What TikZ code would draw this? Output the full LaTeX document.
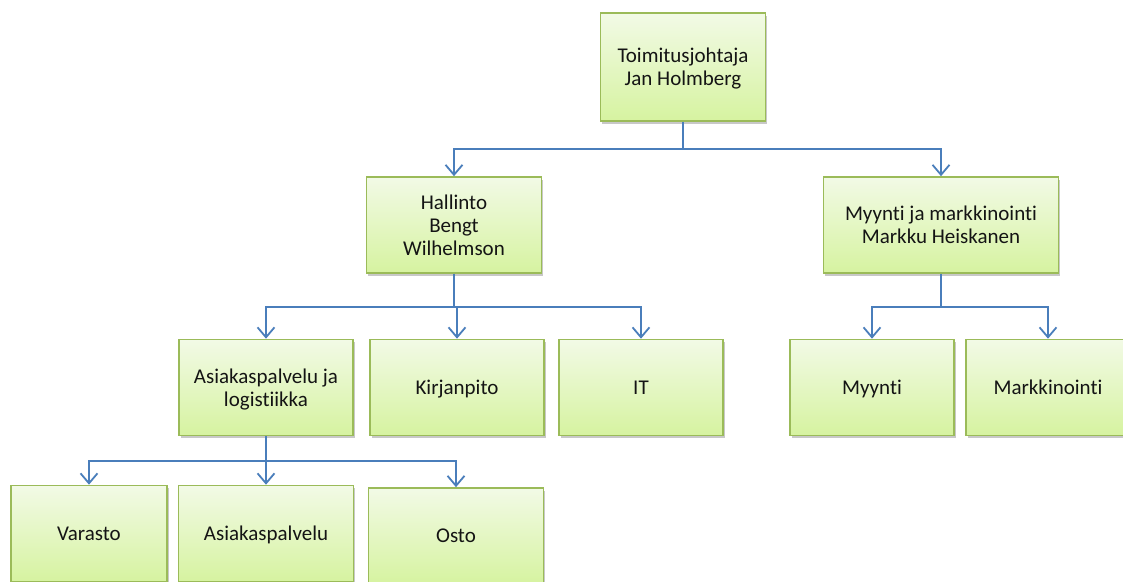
\documentclass[tikz,border=0pt]{standalone}
\usepackage{fontspec}
\setmainfont{Carlito}[Ligatures={NoCommon}]
\usetikzlibrary{arrows.meta,shadows}
\definecolor{boxtop}{RGB}{242,250,230}
\definecolor{boxbot}{RGB}{214,243,160}
\definecolor{boxline}{RGB}{155,187,89}
\definecolor{conncol}{RGB}{74,126,187}
\definecolor{txt}{RGB}{20,20,20}
\tikzset{
  orgbox/.style={draw=boxline, line width=1.6pt, top color=boxtop, bottom color=boxbot,
    minimum height=96pt, inner sep=2pt, align=center, text=txt, text depth=0pt,
    font=\fontsize{21}{23}\selectfont,
    drop shadow={shadow xshift=1.5pt, shadow yshift=-2.5pt, opacity=0.3, fill=black!70}},
  conn/.style={draw=conncol, line width=2pt, -{Straight Barb[length=10pt,width=17pt,line width=1.8pt]}}
}
\begin{document}
\begin{tikzpicture}[x=1pt,y=1pt]
\clip (0,0) rectangle (1123,-581);
\fill[white] (0,0) rectangle (1123,-581);
% level 1
\node[orgbox, minimum width=165pt, minimum height=108pt] (top) at (683,-67) {Toimitusjohtaja\\Jan Holmberg};
% level 2
\node[orgbox, minimum width=175pt] (hal) at (454,-225) {Hallinto\\Bengt\\Wilhelmson};
\node[orgbox, minimum width=235pt] (myy) at (941,-225) {Myynti ja markkinointi\\Markku Heiskanen};
% level 3
\node[orgbox, minimum width=174pt] (asl) at (266,-387.5) {Asiakaspalvelu ja\\logistiikka};
\node[orgbox, minimum width=174pt] (kir) at (457,-387.5) {Kirjanpito};
\node[orgbox, minimum width=164pt] (it) at (641,-387.5) {IT};
\node[orgbox, minimum width=164pt] (mny) at (872,-387.5) {Myynti};
\node[orgbox, minimum width=164pt] (mrk) at (1048,-387.5) {Markkinointi};
% level 4
\node[orgbox, minimum width=156pt] (var) at (89,-533.5) {Varasto};
\node[orgbox, minimum width=175pt] (asp) at (266,-533.5) {Asiakaspalvelu};
\node[orgbox, minimum width=175pt] (ost) at (456,-536) {Osto};
% connectors
\draw[conn] (top.south) -- ++(0,-27) -| (hal.north);
\draw[conn] (top.south) -- ++(0,-27) -| (myy.north);
\draw[conn] (hal.south) -- ++(0,-33) -| (asl.north);
\draw[conn] (hal.south) -- ++(0,-33) -| (kir.north);
\draw[conn] (hal.south) -- ++(0,-33) -| (it.north);
\draw[conn] (myy.south) -- ++(0,-33) -| (mny.north);
\draw[conn] (myy.south) -- ++(0,-33) -| (mrk.north);
\draw[conn] (asl.south) -- ++(0,-25) -| (var.north);
\draw[conn] (asl.south) -- ++(0,-25) -| (asp.north);
\draw[conn] (asl.south) -- ++(0,-25) -| (ost.north);
\end{tikzpicture}
\end{document}
